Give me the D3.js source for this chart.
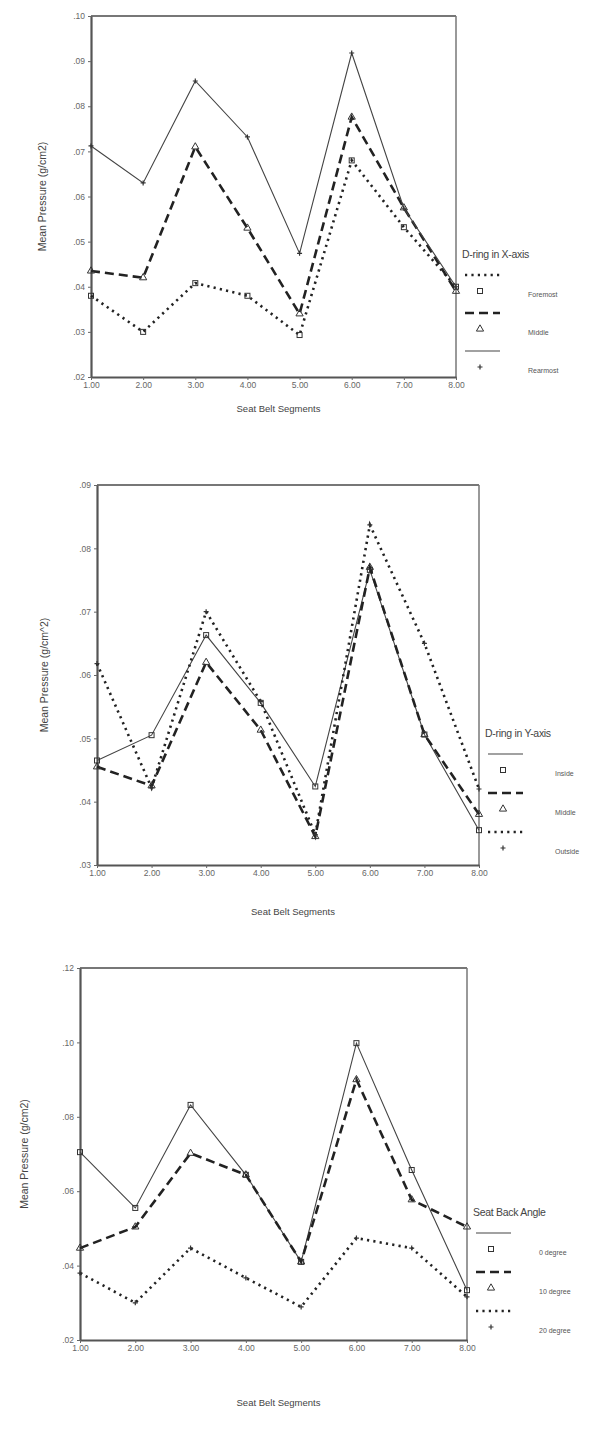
<!DOCTYPE html>
<html><head><meta charset="utf-8">
<script src="https://cdn.jsdelivr.net/npm/d3@7"></script>
<style>body{margin:0;background:#fff}svg{display:block;font-family:"Liberation Sans",Arial,sans-serif}</style>
</head><body><svg id="c" width="597" height="1434"></svg>
<script>
const segments = [1,2,3,4,5,6,7,8];
const xTicks = [1,2,3,4,5,6,7,8];

// Panel 1: D-ring in X-axis
const p1Names = ["Foremost","Middle","Rearmost"];
const p1Foremost = [.038,.030,.0408,.038,.0293,.068,.0532,.040];
const p1Middle   = [.0435,.042,.071,.053,.034,.0776,.0575,.039];
const p1Rearmost = [.0712,.063,.0856,.0732,.0474,.0918,.0574,.040];
const p1YTicks = [.02,.03,.04,.05,.06,.07,.08,.09,.10];

// Panel 2: D-ring in Y-axis
const p2Names = ["Inside","Middle","Outside"];
const p2Inside  = [.0465,.0505,.0663,.0556,.0424,.0766,.0506,.0355];
const p2Middle  = [.0455,.0425,.062,.0513,.0345,.0770,.0506,.038];
const p2Outside = [.0618,.0422,.070,.0558,.0348,.0837,.065,.042];
const p2YTicks = [.03,.04,.05,.06,.07,.08,.09];

// Panel 3: Seat Back Angle
const p3Names = ["0 degree","10 degree","20 degree"];
const p3Deg0  = [.0705,.0555,.0832,.0644,.041,.0998,.0657,.0334];
const p3Deg10 = [.0447,.0504,.0702,.0644,.041,.090,.0577,.0504];
const p3Deg20 = [.038,.030,.0447,.0367,.0289,.0474,.0447,.0316];
const p3YTicks = [.02,.04,.06,.08,.10,.12];

const svg = d3.select("#c");
const fmtY = v => d3.format(".2f")(v).replace(/^0/,"");
const fmtX = d3.format(".2f");

const styles = {
  dotted:{w:2.6,dash:"2.2,4.2",col:"#222"},
  dashed:{w:2.6,dash:"9,5",col:"#222"},
  solid:{w:1.1,dash:null,col:"#444"}
};
function marker(g,type,x,y,sz){
  if(type==="square"){
    g.append("rect").attr("x",x-sz/2).attr("y",y-sz/2).attr("width",sz).attr("height",sz)
     .attr("fill","none").attr("stroke","#333").attr("stroke-width",1);
  } else if(type==="triangle"){
    g.append("path").attr("d",d3.symbol(d3.symbolTriangle,sz*sz*0.9)()).attr("transform",`translate(${x},${y})`)
     .attr("fill","none").attr("stroke","#333").attr("stroke-width",1);
  } else {
    g.append("path").attr("d",`M${x-sz/2},${y}H${x+sz/2}M${x},${y-sz/2}V${y+sz/2}`)
     .attr("stroke","#333").attr("stroke-width",1.2).attr("fill","none");
  }
}

function panel(cfg){
  const g = svg.append("g");
  const x = d3.scaleLinear().domain([1,8]).range([cfg.left,cfg.right]);
  const y = d3.scaleLinear().domain(cfg.ydom).range([cfg.bottom,cfg.top]);
  g.append("line").attr("x1",cfg.left).attr("x2",cfg.right).attr("y1",cfg.top).attr("y2",cfg.top).attr("stroke","#777").attr("stroke-width",2.2);
  g.append("line").attr("x1",cfg.right).attr("x2",cfg.right).attr("y1",cfg.top).attr("y2",cfg.bottom).attr("stroke","#777").attr("stroke-width",1.5);
  const ya = g.append("g").attr("transform",`translate(${cfg.left},0)`)
    .call(d3.axisLeft(y).tickValues(cfg.yticks).tickFormat(fmtY).tickSize(3).tickSizeOuter(0).tickPadding(3));
  const xa = g.append("g").attr("transform",`translate(0,${cfg.bottom})`)
    .call(d3.axisBottom(x).tickValues(xTicks).tickFormat(fmtX).tickSize(3).tickSizeOuter(0).tickPadding(2));
  [ya,xa].forEach(a=>{
    a.select(".domain").attr("stroke","#555").attr("stroke-width",2.2);
    a.selectAll(".tick line").attr("stroke","#666");
    a.selectAll("text").attr("font-size",8.5).attr("fill","#666").attr("font-family","Liberation Sans, Arial, sans-serif");
  });
  cfg.series.forEach(s=>{
    const st = styles[s.style];
    const line = d3.line().x((d,i)=>x(segments[i])).y(d=>y(d));
    g.append("path").datum(s.values).attr("d",line).attr("fill","none")
     .attr("stroke",st.col).attr("stroke-width",st.w).attr("stroke-dasharray",st.dash).attr("stroke-linejoin","miter");
    s.values.forEach((v,i)=>marker(g,s.marker,x(segments[i]),y(v),5));
  });
  g.append("text").attr("transform",`translate(${cfg.ytX},${(cfg.top+cfg.bottom)/2}) rotate(-90)`)
   .attr("text-anchor","middle").attr("font-size",10.5).attr("fill","#444").text(cfg.ytitle);
  g.append("text").attr("x",(cfg.left+cfg.right)/2+5).attr("y",cfg.xtY).attr("text-anchor","middle")
   .attr("font-size",9.5).attr("fill","#444").text("Seat Belt Segments");
  const L = cfg.legend;
  g.append("text").attr("x",L.x).attr("y",L.y).attr("font-size",10.5).attr("fill","#444").attr("letter-spacing",-0.3).text(L.title);
  L.items.forEach((it,i)=>{
    const st = styles[it.style];
    const y0 = L.y + 17 + i*L.step;
    g.append("line").attr("x1",L.x+3).attr("x2",L.x+38).attr("y1",y0).attr("y2",y0)
     .attr("stroke",st.col).attr("stroke-width",st.w).attr("stroke-dasharray",st.dash);
    marker(g,it.marker,L.x+18,y0+16,5);
    g.append("text").attr("x",L.x+L.labX).attr("y",y0+22).attr("font-size",7).attr("fill","#555").text(it.name);
  });
}

panel({left:91,right:456,top:16,bottom:377,ydom:[.02,.10],yticks:p1YTicks,
  ytitle:"Mean Pressure (g/cm2)",ytX:46,xtY:412,
  series:[{values:p1Foremost,style:"dotted",marker:"square"},
          {values:p1Middle,style:"dashed",marker:"triangle"},
          {values:p1Rearmost,style:"solid",marker:"plus"}],
  legend:{x:462,y:258,title:"D-ring in X-axis",step:38,labX:66,
    items:[{name:p1Names[0],style:"dotted",marker:"square"},
           {name:p1Names[1],style:"dashed",marker:"triangle"},
           {name:p1Names[2],style:"solid",marker:"plus"}]}
});

panel({left:97,right:479,top:485,bottom:865,ydom:[.03,.09],yticks:p2YTicks,
  ytitle:"Mean Pressure (g/cm^2)",ytX:48,xtY:915,
  series:[{values:p2Inside,style:"solid",marker:"square"},
          {values:p2Middle,style:"dashed",marker:"triangle"},
          {values:p2Outside,style:"dotted",marker:"plus"}],
  legend:{x:485,y:737,title:"D-ring in Y-axis",step:39,labX:70,
    items:[{name:p2Names[0],style:"solid",marker:"square"},
           {name:p2Names[1],style:"dashed",marker:"triangle"},
           {name:p2Names[2],style:"dotted",marker:"plus"}]}
});

panel({left:80,right:467,top:968,bottom:1340,ydom:[.02,.12],yticks:p3YTicks,
  ytitle:"Mean Pressure (g/cm2)",ytX:28,xtY:1406,
  series:[{values:p3Deg0,style:"solid",marker:"square"},
          {values:p3Deg10,style:"dashed",marker:"triangle"},
          {values:p3Deg20,style:"dotted",marker:"plus"}],
  legend:{x:473,y:1216,title:"Seat Back Angle",step:39,labX:66,
    items:[{name:p3Names[0],style:"solid",marker:"square"},
           {name:p3Names[1],style:"dashed",marker:"triangle"},
           {name:p3Names[2],style:"dotted",marker:"plus"}]}
});
</script></body></html>
